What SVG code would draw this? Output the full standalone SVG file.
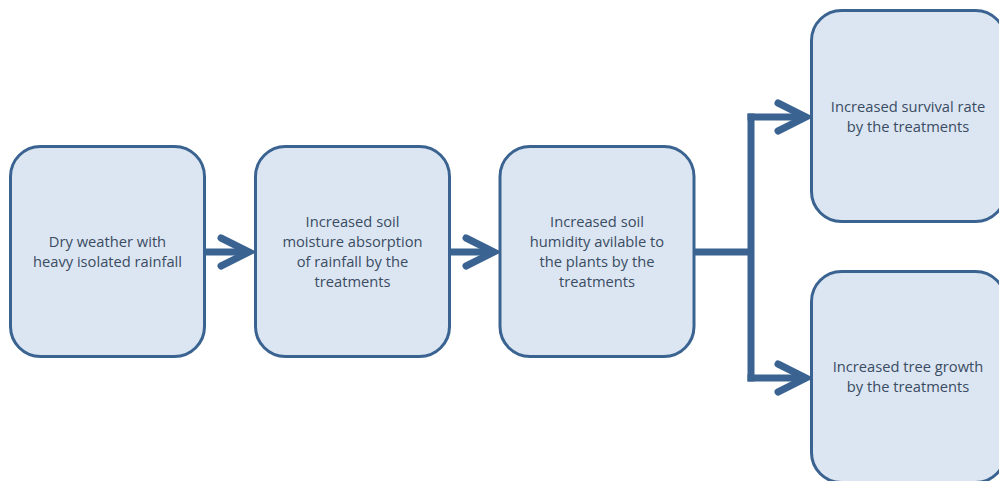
<svg xmlns="http://www.w3.org/2000/svg" width="999" height="481" viewBox="0 0 999 481">
  <style>
    .box { fill: #DCE6F2; stroke: #3A6391; stroke-width: 3; }
    .lbl { font-family: "Open Sans", "Noto Sans", "Liberation Sans", sans-serif; font-size: 14.7px; fill: #3A4C63; text-anchor: middle; }
    .line { fill: none; stroke: #3A6391; stroke-width: 7; }
    .head { fill: none; stroke: #3A6391; stroke-width: 7; stroke-linecap: round; stroke-linejoin: miter; }
  </style>
  <rect width="999" height="481" fill="#FFFFFF"/>

  <g id="connectors">
    <!-- box 1 to box 2 -->
    <path class="line" d="M205 252 H249"/>
    <path class="head" d="M221 238 L249 252 L221 266"/>
    <!-- box 2 to box 3 -->
    <path class="line" d="M449 252 H494"/>
    <path class="head" d="M466 238 L494 252 L466 266"/>
    <!-- box 3 splits to the two outcomes -->
    <path class="line" d="M694 252 H751"/>
    <path class="line" d="M751 113.5 V381.5"/>
    <path class="line" d="M747.5 117 H806"/>
    <path class="line" d="M747.5 378 H806"/>
    <path class="head" d="M778 103 L806 117 L778 131"/>
    <path class="head" d="M778 364 L806 378 L778 392"/>
  </g>

  <g id="node-weather">
    <rect class="box" x="10.5" y="146.5" width="194" height="210" rx="30"/>
    <text class="lbl" x="107.5" y="247">Dry weather with</text>
    <text class="lbl" x="107.5" y="267">heavy isolated rainfall</text>
  </g>

  <g id="node-moisture">
    <rect class="box" x="255.5" y="146.5" width="194" height="210" rx="30"/>
    <text class="lbl" x="352.5" y="227">Increased soil</text>
    <text class="lbl" x="352.5" y="247">moisture absorption</text>
    <text class="lbl" x="352.5" y="267">of rainfall by the</text>
    <text class="lbl" x="352.5" y="287">treatments</text>
  </g>

  <g id="node-humidity">
    <rect class="box" x="500" y="146.5" width="194" height="210" rx="30"/>
    <text class="lbl" x="597" y="227">Increased soil</text>
    <text class="lbl" x="597" y="247">humidity avilable to</text>
    <text class="lbl" x="597" y="267">the plants by the</text>
    <text class="lbl" x="597" y="287">treatments</text>
  </g>

  <g id="node-survival">
    <rect class="box" x="811.5" y="10.5" width="194" height="211" rx="30"/>
    <text class="lbl" x="908" y="112">Increased survival rate</text>
    <text class="lbl" x="908" y="132">by the treatments</text>
  </g>

  <g id="node-growth">
    <rect class="box" x="811.5" y="271.5" width="194" height="211" rx="30"/>
    <text class="lbl" x="908" y="372">Increased tree growth</text>
    <text class="lbl" x="908" y="392">by the treatments</text>
  </g>
</svg>
